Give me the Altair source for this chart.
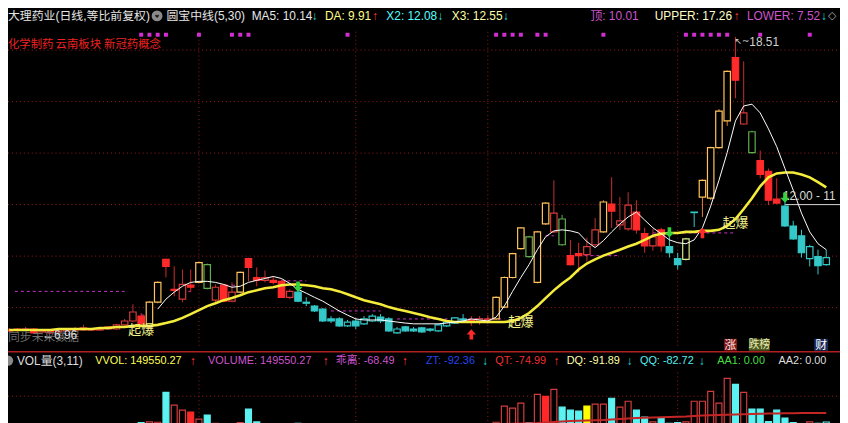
import altair as alt
import pandas as pd

# ---------------- data ----------------
idx = list(range(100))

kinds = ("R R r R r R r r R r "
         "R r r r r r R Y Y R "
         "R r R Y G r R r Y R "
         "R r R R r C C C C C "
         "C c C c c C C c C C "
         "C C c c c C R r r Y "
         "Y Y Y G Y Y r G R R "
         "r r Y R r r R R r R "
         "C C L C Y Y Y Y R r "
         "G R R R C C C c C c").split()

open_ = [7.13, 7.17, 7.13, 7.17, 7.06, 7.10, 7.06, 7.10, 7.17, 7.13,
         7.17, 7.13, 7.17, 7.17, 7.33, 7.48, 7.67, 7.25, 8.21, 9.87,
         8.71, 8.33, 8.87, 8.98, 9.67, 8.29, 8.87, 8.25, 8.60, 9.90,
         9.17, 9.06, 9.06, 9.02, 8.40, 8.60, 8.21, 8.06, 7.94, 7.56,
         7.56, 7.29, 7.48, 7.37, 7.48, 7.63, 7.56, 7.02, 7.25, 7.17,
         7.21, 7.17, 7.10, 7.29, 7.40, 7.56, 7.52, 7.48, 7.52, 7.56,
         8.02, 9.17, 10.29, 10.75, 8.98, 11.25, 10.94, 11.44, 10.02, 10.10,
         10.06, 10.44, 10.94, 12.02, 11.21, 11.06, 11.71, 10.87, 10.40, 11.02,
         10.37, 9.90, 9.87, 11.71, 12.29, 12.25, 14.21, 15.25, 17.71, 15.13,
         14.83, 13.71, 13.29, 12.21, 11.94, 11.17, 10.79, 9.90, 9.98, 9.67]

close = [7.10, 7.12, 7.17, 7.02, 7.13, 7.02, 7.13, 7.17, 7.13, 7.21,
         7.13, 7.17, 7.25, 7.33, 7.48, 7.83, 7.37, 8.21, 8.98, 9.60,
         8.67, 8.90, 8.79, 9.75, 8.75, 8.79, 8.25, 8.60, 9.37, 9.56,
         9.06, 9.17, 8.98, 8.40, 8.63, 8.25, 8.17, 7.87, 7.48, 7.48,
         7.29, 7.44, 7.29, 7.56, 7.67, 7.48, 7.10, 7.17, 7.10, 7.10,
         7.06, 7.12, 7.33, 7.44, 7.60, 7.52, 7.48, 7.56, 7.56, 8.40,
         9.17, 10.10, 11.10, 9.98, 10.94, 12.06, 11.67, 10.44, 9.67, 10.02,
         10.37, 11.02, 12.10, 11.75, 11.37, 11.98, 11.02, 10.40, 10.75, 10.40,
         10.13, 9.67, 10.67, 11.69, 12.94, 14.21, 15.63, 17.17, 16.83, 15.56,
         14.02, 13.17, 12.17, 12.06, 11.17, 10.67, 10.13, 10.37, 9.63, 9.94]

high = [7.21, 7.21, 7.25, 7.21, 7.17, 7.13, 7.17, 7.21, 7.25, 7.33,
        7.21, 7.25, 7.29, 7.37, 7.56, 8.13, 7.79, 8.25, 9.02, 9.90,
        9.60, 9.48, 9.48, 9.79, 9.71, 8.90, 8.90, 8.98, 9.40, 9.94,
        9.56, 9.44, 9.21, 9.10, 8.71, 8.90, 8.40, 8.10, 7.98, 7.67,
        7.63, 7.52, 7.60, 7.67, 7.75, 7.75, 7.63, 7.25, 7.29, 7.25,
        7.25, 7.21, 7.37, 7.48, 7.63, 7.75, 7.67, 7.67, 7.71, 8.44,
        9.21, 10.13, 11.13, 10.79, 10.98, 12.10, 12.94, 11.60, 10.63, 10.52,
        10.71, 11.48, 12.17, 13.06, 12.29, 12.48, 12.17, 11.10, 11.06, 11.10,
        10.79, 10.13, 10.71, 11.71, 12.98, 14.25, 15.71, 17.21, 18.51, 17.56,
        14.87, 14.10, 13.40, 13.02, 12.17, 11.37, 11.02, 10.44, 10.25, 10.25]

low = [7.06, 7.06, 7.10, 7.00, 6.96, 6.98, 7.02, 7.06, 7.10, 7.10,
       7.10, 7.10, 7.13, 7.13, 7.29, 7.44, 7.33, 7.21, 8.17, 9.17,
       8.44, 8.21, 8.60, 8.94, 8.71, 8.21, 8.21, 8.21, 8.56, 9.02,
       8.83, 8.98, 8.90, 8.37, 8.33, 8.21, 8.06, 7.83, 7.44, 7.40,
       7.25, 7.25, 7.17, 7.33, 7.44, 7.40, 7.06, 6.98, 7.06, 7.06,
       7.02, 7.06, 7.06, 7.25, 7.37, 7.44, 7.29, 7.33, 7.37, 7.52,
       7.98, 9.13, 10.25, 9.94, 8.94, 11.21, 10.90, 10.40, 9.63, 9.37,
       9.79, 10.37, 10.90, 11.10, 11.02, 10.98, 10.87, 10.13, 10.21, 10.17,
       9.94, 9.48, 9.83, 11.13, 11.52, 12.17, 14.17, 15.06, 16.13, 15.10,
       13.98, 13.02, 11.98, 12.02, 11.13, 10.63, 9.94, 9.60, 9.29, 9.63]

ma_white = [None] * 18 + [
    7.94, 8.33, 8.60, 8.83, 8.98, 9.02, 9.02, 8.98, 8.90, 8.79,
    8.83, 8.98, 9.06, 9.13, 9.21, 9.13, 8.94, 8.71, 8.56, 8.40,
    8.25, 8.06, 7.87, 7.71, 7.56, 7.52, 7.52, 7.52, 7.48, 7.44,
    7.40, 7.37, 7.37, 7.37, 7.37, 7.40, 7.44, 7.48, 7.56, 7.52,
    7.48, 7.63, 8.06, 8.63, 9.17, 9.67, 10.25, 10.75, 10.98, 11.02,
    10.98, 10.90, 10.56, 10.33, 10.60, 10.94, 11.25, 11.52, 11.71, 11.40,
    11.10, 10.87, 10.63, 10.52, 10.48, 10.63, 11.10, 11.94, 12.94, 14.02,
    15.25, 15.83, 15.90, 15.56, 14.94, 14.25, 13.40, 12.56, 11.67, 10.94,
    10.48, 10.25]

ma_yellow = [7.13, 7.13, 7.13, 7.13, 7.13, 7.13, 7.17, 7.17, 7.17, 7.17,
             7.17, 7.21, 7.21, 7.25, 7.25, 7.29, 7.29, 7.29, 7.33, 7.40,
             7.48, 7.60, 7.75, 7.90, 8.06, 8.17, 8.29, 8.37, 8.48, 8.60,
             8.67, 8.75, 8.79, 8.87, 8.90, 8.90, 8.87, 8.83, 8.75, 8.71,
             8.63, 8.52, 8.40, 8.29, 8.21, 8.13, 8.02, 7.94, 7.87, 7.79,
             7.71, 7.63, 7.56, 7.48, 7.44, 7.44, 7.44, 7.44, 7.44, 7.44,
             7.44, 7.48, 7.60, 7.79, 8.06, 8.37, 8.67, 8.94, 9.17, 9.48,
             9.71, 9.87, 10.02, 10.13, 10.25, 10.37, 10.48, 10.63, 10.79, 10.87,
             10.90, 10.90, 10.94, 10.94, 10.98, 10.98, 11.02, 11.17, 11.44, 11.83,
             12.25, 12.71, 13.06, 13.21, 13.25, 13.25, 13.17, 13.06, 12.87, 12.67]

volume = [95000, 88000, 102000, 91000, 110000, 97000, 86000, 93000, 105000, 99000,
          92000, 101000, 108000, 115000, 124000, 138000, 146000, 150000, 148000, 363000,
          270600, 235000, 220700, 170900, 199400, 140000, 132000, 120000, 145000, 242000,
          150000, 128000, 110000, 135000, 118000, 140000, 122000, 105000, 131000, 112000,
          98000, 90000, 104000, 96000, 88000, 93000, 120000, 101000, 86000, 79000,
          84000, 76000, 90000, 97000, 104000, 92000, 110000, 118000, 125000, 148000,
          263400, 249200, 284800, 145000, 348900, 334600, 384500, 256300, 235000, 227800,
          263400, 277700, 277700, 320400, 256300, 299000, 235000, 185100, 150000, 178000,
          140000, 146000, 150000, 299000, 299000, 370200, 284800, 462800, 420100, 363100,
          242100, 242100, 152000, 235000, 178000, 145000, 138000, 150000, 140000, 149550]

vol_kinds = ("C C r C r C r r C r "
             "C r r r r r C r r C "
             "r r R r C r C r r C "
             "C r C C r C C C C C "
             "C r C r r C C r C C "
             "C C r r r C C r r r "
             "r r r C r R r C C C "
             "Y r r C r r C C r C "
             "C C r r r r r r C r "
             "C C C C C C C r C c").split()

vol_ma = [None] * 60 + [
    135300, 137000, 138800, 140600, 142400, 146000, 149500, 153000, 156600, 158400,
    160200, 162000, 163800, 167300, 170900, 174400, 178000, 179800, 181600, 183400,
    185100, 186900, 188700, 192200, 195800, 197600, 199400, 201200, 202900, 204700,
    206500, 208200, 210000, 211100, 212200, 212900, 213600, 213600, 213600, 213600]

grid_prices = [8, 10, 12, 14, 16, 18]
grid_idx = [23, 42, 58, 81]
top_dot_idx = [16, 17, 18, 19, 23, 27, 28, 29, 41, 59, 60, 61, 62, 64, 65, 72,
               82, 83, 84, 85, 86, 87, 91, 97]
dash_from = [0.7, 16, 21, 27, 33, 39, 47, 65, 69, 78]
dash_to = [14, 17, 22, 28, 36, 45, 60, 66, 74, 88]
dash_level = [8.63, 7.71, 8.63, 8.87, 9.04, 7.87, 7.56, 10.79, 10.02, 10.90]
down_sig_idx = [35, 80, 94]
down_sig_price = [8.81, 10.92, 12.27]
up_sig_idx = [56, 84]
up_sig_price = [6.96, 10.90]
qibao_idx = [16, 62, 88]
level_from = [94]
level_price = [12.00]

# ---------------- scales ----------------
X_SCALE = alt.Scale(domain=[0, 100], range=[-3.86, 839.44], nice=False, zero=False)
P_SCALE = alt.Scale(domain=[6, 19], range=[352.5, 14.5], nice=False, zero=False)
V_SCALE = alt.Scale(domain=[0, 500000], range=[437, 366.8], nice=False, zero=False)

LAT = "Liberation Sans, Noto Sans CJK SC"
CJK = "Noto Sans CJK SC"

K = ["R", "r", "Y", "G", "L", "C", "c"]
body_fill = ["#ff2a2a", "#000000", "#000000", "#000000", "#000000", "#35c8c8", "#000000"]
body_stroke = ["#ff2a2a", "#d43a3a", "#ffc45e", "#5fae4f", "#d8ec88", "#35c8c8", "#35c8c8"]
wick_col = ["#d42a2a", "#c03030", "#e08040", "#5fae4f", "#b0c060", "#35c8c8", "#35c8c8"]

VK = ["r", "R", "C", "Y", "c"]
vfill = ["#000000", "#ff2828", "#5cf2f2", "#ffff00", "#000000"]
vstroke = ["#d23c3c", "#ff2828", "#5cf2f2", "#ffff00", "#5cf2f2"]

one = pd.DataFrame({"a": [0]})


def txt(s, x, y, color, size=12, font=LAT, align="left"):
    return alt.Chart(one).mark_text(text=s, align=align, baseline="middle", font=font,
                                    fontSize=size, color=color).encode(
        x=alt.value(x), y=alt.value(y))


def box(x1, x2, y1, y2, color):
    return alt.Chart(one).mark_rect(color=color).encode(
        x=alt.value(x1), x2=alt.value(x2), y=alt.value(y1), y2=alt.value(y2))


X = alt.X("i:Q", scale=X_SCALE, axis=None)

cdf = pd.DataFrame({"i": idx, "open": open_, "high": high, "low": low, "close": close, "kind": kinds})
ldf = pd.DataFrame({"i": idx, "ma5": ma_white, "ma30": ma_yellow})
vdf = pd.DataFrame({"i": idx, "vol": volume, "vk": vol_kinds, "vma": vol_ma})

layers = []

# grid
layers.append(alt.Chart(pd.DataFrame({"p": grid_prices})).mark_rule(
    color="#9a1c1c", strokeDash=[1, 3], strokeWidth=1).encode(
    y=alt.Y("p:Q", scale=P_SCALE, axis=None), x=alt.value(0), x2=alt.value(840)))
layers.append(alt.Chart(pd.DataFrame({"i": grid_idx})).mark_rule(
    color="#9a1c1c", strokeDash=[1, 3], strokeWidth=1).encode(
    x=X, y=alt.value(22), y2=alt.value(339)))
layers.append(alt.Chart(pd.DataFrame({"i": grid_idx})).mark_rule(
    color="#9a1c1c", strokeDash=[1, 3], strokeWidth=1).encode(
    x=X, y=alt.value(366), y2=alt.value(415)))
layers.append(alt.Chart(one).mark_rule(color="#9a1c1c", strokeDash=[1, 3]).encode(
    y=alt.value(390), x=alt.value(0), x2=alt.value(840)))

# magenta dashed resistance levels
layers.append(alt.Chart(pd.DataFrame({"i": dash_from, "i2": dash_to, "p": dash_level})).mark_rule(
    color="#c834c8", strokeDash=[3, 3], strokeWidth=1).encode(
    x=X, x2="i2:Q", y=alt.Y("p:Q", scale=P_SCALE, axis=None)))

# white level line
layers.append(alt.Chart(pd.DataFrame({"i": level_from, "p": level_price})).mark_rule(
    color="#d8d8d8", strokeWidth=1).encode(
    x=X, x2=alt.value(840), y=alt.Y("p:Q", scale=P_SCALE, axis=None)))

# volume
layers.append(alt.Chart(vdf).mark_bar(size=6, strokeWidth=1.2).encode(
    x=X, y=alt.Y("vol:Q", scale=V_SCALE, axis=None), y2=alt.datum(0),
    fill=alt.Fill("vk:N", scale=alt.Scale(domain=VK, range=vfill), legend=None),
    stroke=alt.Stroke("vk:N", scale=alt.Scale(domain=VK, range=vstroke), legend=None)))
layers.append(alt.Chart(vdf).transform_filter("isValid(datum.vma)").mark_line(
    color="#c42626", strokeWidth=2).encode(
    x=X, y=alt.Y("vma:Q", scale=V_SCALE, axis=None)))

# candles
layers.append(alt.Chart(cdf).mark_rule(strokeWidth=1).encode(
    x=X, y=alt.Y("high:Q", scale=P_SCALE, axis=None), y2="low:Q",
    color=alt.Color("kind:N", scale=alt.Scale(domain=K, range=wick_col), legend=None)))
layers.append(alt.Chart(cdf).mark_bar(size=6.5, strokeWidth=1.2).encode(
    x=X, y=alt.Y("open:Q", scale=P_SCALE, axis=None), y2="close:Q",
    fill=alt.Fill("kind:N", scale=alt.Scale(domain=K, range=body_fill), legend=None),
    stroke=alt.Stroke("kind:N", scale=alt.Scale(domain=K, range=body_stroke), legend=None)))

# moving averages
layers.append(alt.Chart(ldf).mark_line(color="#f4ec3a", strokeWidth=2.6).encode(
    x=X, y=alt.Y("ma30:Q", scale=P_SCALE, axis=None)))
layers.append(alt.Chart(ldf).transform_filter("isValid(datum.ma5)").mark_line(
    color="#ffffff", strokeWidth=1).encode(
    x=X, y=alt.Y("ma5:Q", scale=P_SCALE, axis=None)))

# top magenta markers
layers.append(alt.Chart(pd.DataFrame({"i": top_dot_idx})).mark_square(
    size=16, color="#d22ed2", opacity=1).encode(x=X, y=alt.value(25)))

# 起爆 labels on the yellow line
qdf = pd.DataFrame({"i": qibao_idx, "p": [ma_yellow[k] for k in qibao_idx]})
layers.append(alt.Chart(qdf).mark_text(text="起爆", font=CJK, fontSize=13, color="#f2f08a",
                                       align="center", baseline="middle", dy=4).encode(
    x=X, y=alt.Y("p:Q", scale=P_SCALE, axis=None)))

# max / min labels
hi_i = high.index(max(high))
lo_i = low.index(min(low))
hdf = pd.DataFrame({"i": [hi_i], "p": [max(high)], "t": [f"{max(high):.2f}"]})
ldf2 = pd.DataFrame({"i": [lo_i], "p": [min(low)], "t": [f"←{min(low):.2f}"]})
layers.append(alt.Chart(hdf).mark_text(
    text="↖~", font="DejaVu Sans", fontSize=9, color="#d0d0d0", align="left", baseline="middle",
    dx=-1, dy=4).encode(x=X, y=alt.Y("p:Q", scale=P_SCALE, axis=None)))
layers.append(alt.Chart(hdf).mark_text(
    font=LAT, fontSize=12, color="#d0d0d0", align="left", baseline="middle", dx=14, dy=5).encode(
    x=X, y=alt.Y("p:Q", scale=P_SCALE, axis=None), text="t:N"))
layers.append(txt("同步未来数据", 0, 330, "#6e6e6e", 12, CJK))
layers.append(alt.Chart(ldf2).mark_text(
    font=LAT, fontSize=12, color="#d8d8d8", align="left", baseline="middle", dx=0, dy=1).encode(
    x=X, y=alt.Y("p:Q", scale=P_SCALE, axis=None), text="t:N"))
layers.append(alt.Chart(pd.DataFrame({"i": level_from, "p": level_price})).mark_text(
    text="12.00 - 11", font=LAT, fontSize=12, color="#d8d8d8", align="left",
    baseline="middle", dx=-2, dy=-9).encode(x=X, y=alt.Y("p:Q", scale=P_SCALE, axis=None)))

# signal arrows
DOWN = "M-0.35,-1L0.35,-1L0.35,0L0.9,0L0,1L-0.9,0L-0.35,0Z"
UP = "M-0.35,1L0.35,1L0.35,0L0.9,0L0,-1L-0.9,0L-0.35,0Z"
layers.append(alt.Chart(pd.DataFrame({"i": down_sig_idx, "p": down_sig_price})).mark_point(
    shape=DOWN, filled=True, size=110, color="#33d040", opacity=1).encode(
    x=X, y=alt.Y("p:Q", scale=P_SCALE, axis=None)))
layers.append(alt.Chart(pd.DataFrame({"i": up_sig_idx, "p": up_sig_price})).mark_point(
    shape=UP, filled=True, size=110, color="#ff2a2a", opacity=1).encode(
    x=X, y=alt.Y("p:Q", scale=P_SCALE, axis=None)))

# bottom badges of the price panel
layers += [box(723, 736, 332, 344, "#7c1414"), txt("涨", 729.5, 338, "#ffe0e0", 12, CJK, "center"),
           box(748, 769, 332, 344, "#4e5a22"), txt("跌榜", 758.5, 338, "#e8e8b0", 11, CJK, "center"),
           box(814, 828, 332, 344, "#1c2c5c"), txt("财", 821, 338, "#ffffff", 12, CJK, "center")]

# separator between panels
layers.append(alt.Chart(one).mark_rule(color="#b02020", strokeWidth=1.5).encode(
    y=alt.value(345), x=alt.value(0), x2=alt.value(840)))

# header of price panel
HY = 6
layers += [
    txt("大理药业(日线,等比前复权)", 0, HY, "#e6e6e6", 12),
    alt.Chart(one).mark_circle(size=120, color="#8a8a8a", opacity=1).encode(x=alt.value(150.5), y=alt.value(HY)),
    alt.Chart(one).mark_point(shape="M-0.5,-0.25L0,0.3L0.5,-0.25", filled=False, size=40,
                              color="#1a1a1a", strokeWidth=1.6, opacity=1).encode(x=alt.value(150.5), y=alt.value(HY)),
    txt("圆宝中线(5,30)", 160, HY, "#e6e6e6", 12),
    txt("MA5: 10.14", 246, HY, "#e6e6e6", 12), txt("↓", 307, HY, "#22dddd", 12),
    txt("DA: 9.91", 320, HY, "#ffff88", 12), txt("↑", 368, HY, "#ff3333", 12),
    txt("X2: 12.08", 382, HY, "#55ffff", 12), txt("↓", 434, HY, "#22dddd", 12),
    txt("X3: 12.55", 448, HY, "#ffffaa", 12), txt("↓", 500, HY, "#22dddd", 12),
    txt("顶: 10.01", 588, HY, "#cc55cc", 12),
    txt("UPPER: 17.26", 653, HY, "#ffffcc", 12), txt("↑", 733, HY, "#ff3333", 12),
    txt("LOWER: 7.52", 746, HY, "#cc55cc", 12), txt("↓", 821, HY, "#22dddd", 12),
    txt("◇", 828, HY, "#aaaaaa", 11, "DejaVu Sans"),
    txt("化学制药", 0, 35, "#ee2222", 11.5, CJK),
    txt("云南板块", 48, 35, "#ee2222", 11.5, CJK),
    txt("新冠药概念", 97, 35, "#ee2222", 11.5, CJK),
]

# header of volume panel
VY = 354
layers += [
    alt.Chart(one).mark_circle(size=110, color="#8a8a8a", opacity=1).encode(x=alt.value(0), y=alt.value(VY)),
    txt("VOL量(3,11)", 9, VY, "#dddddd", 12),
    txt("VVOL: 149550.27", 88, VY, "#ffff55", 11), txt("↑", 184, VY, "#ff3333", 12),
    txt("VOLUME: 149550.27", 202, VY, "#cc55cc", 11), txt("↑", 318, VY, "#ff3333", 12),
    txt("乖离: -68.49", 331, VY, "#cc55cc", 11), txt("↑", 398, VY, "#ff3333", 12),
    txt("ZT: -92.36", 422, VY, "#2244ee", 11), txt("↓", 479, VY, "#22dddd", 12),
    txt("QT: -74.99", 492, VY, "#ee3030", 11), txt("↑", 551, VY, "#ff3333", 12),
    txt("DQ: -91.89", 564, VY, "#ffffaa", 11), txt("↓", 625, VY, "#22dddd", 12),
    txt("QQ: -82.72", 638, VY, "#55eeee", 11), txt("↓", 698, VY, "#22dddd", 12),
    txt("AA1: 0.00", 716, VY, "#44dd44", 11),
    txt("AA2: 0.00", 778, VY, "#dddddd", 11),
]

chart = alt.layer(*layers).properties(
    width=840, height=415, background="#000000", padding=0,
    autosize=alt.AutoSizeParams(type="none"),
).resolve_scale(
    y="independent", fill="independent", stroke="independent", color="independent"
).configure_view(stroke=None)

chart.save("out.html", embed_options={"renderer": "svg", "actions": False})
